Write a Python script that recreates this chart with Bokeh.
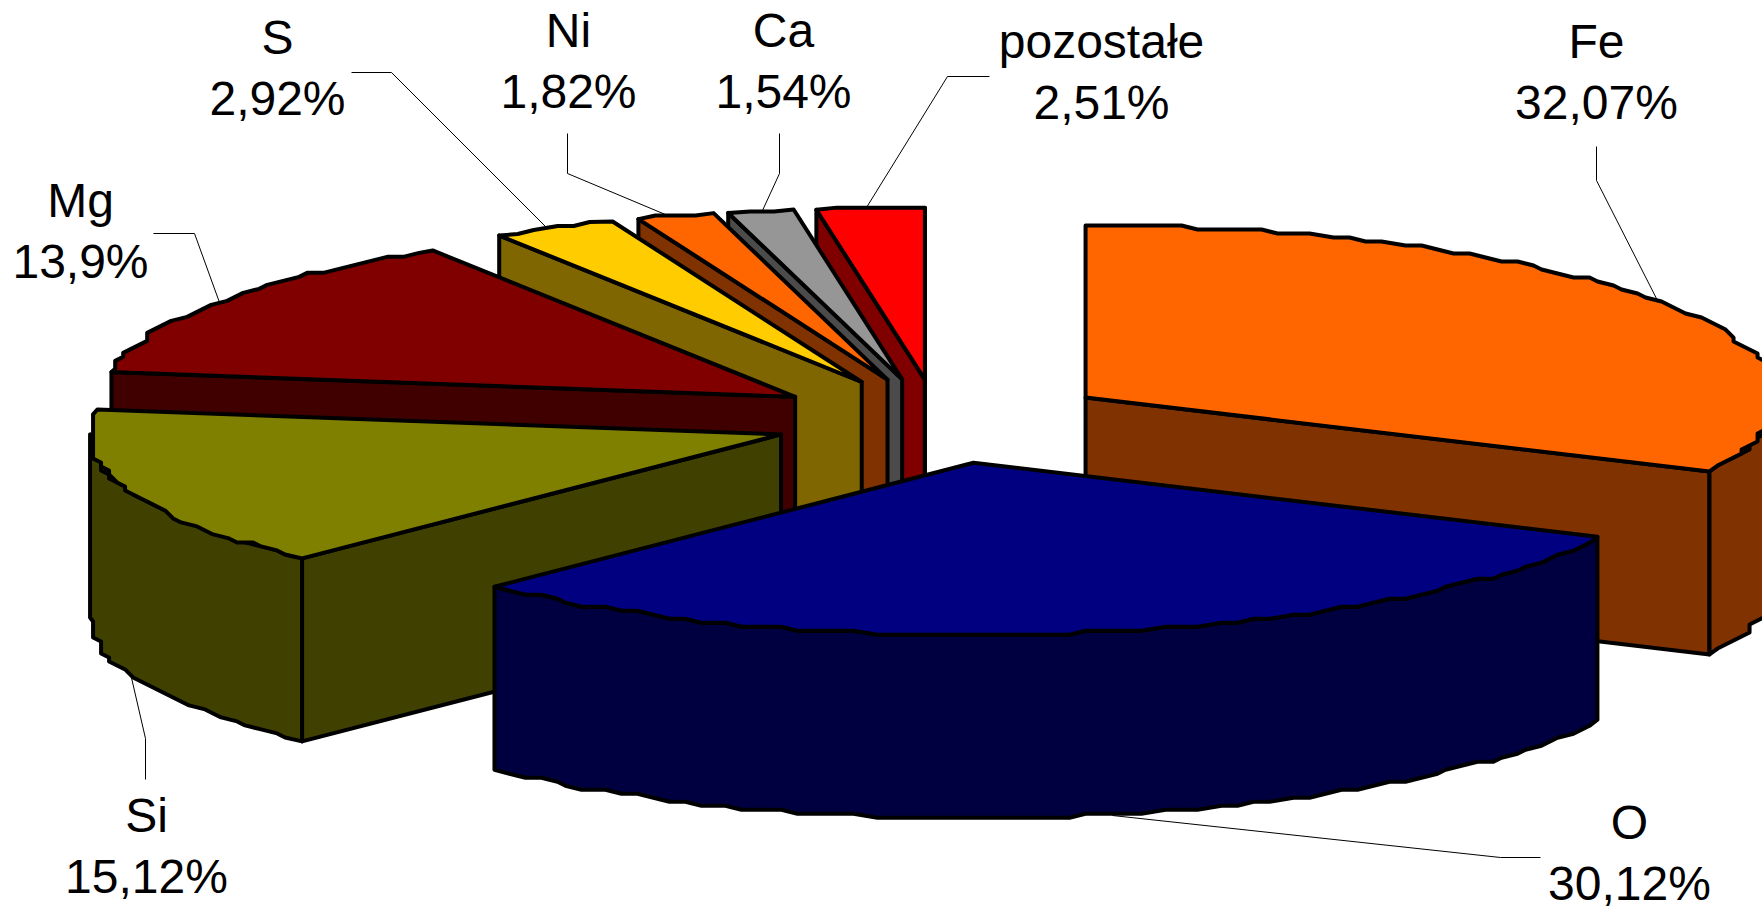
import math
from bokeh.plotting import figure
from bokeh.models import Range1d, ColumnDataSource
from bokeh.core.properties import value
from bokeh.embed import file_html
from bokeh.resources import INLINE

# ---- data -------------------------------------------------------------
names = ["Fe", "O", "Si", "Mg", "S", "Ni", "Ca", "pozostałe"]
shares = [32.07, 30.12, 15.12, 13.9, 2.92, 1.82, 1.54, 2.51]
share_labels = ["32,07%", "30,12%", "15,12%", "13,9%", "2,92%", "1,82%", "1,54%", "2,51%"]
top_colors = ["#FF6600", "#000080", "#808000", "#800000", "#FFCC00", "#FF6600", "#969696", "#FF0000"]
wall_colors = ["#803300", "#000040", "#404000", "#400000", "#806600", "#803300", "#4B4B4B", "#800000"]

# ---- layout (screen pixels) ---------------------------------------------
W, H, M = 1762, 909, 0
CX, CY, RX, RY, DEPTH, EXPLODE = 942, 420, 691, 172, 183, 0.25
SNAP_X, SNAP_Y, STEP = 8.0, 4.0, 1.6
NUDGE_X = [-3, 0, 2, -3, -4, -2, -5, -4]
NUDGE_Y = [0, 0, 0, 0, 0, 0, 1, 2]
LABEL_X = [1596, 1629, 146, 80, 277, 568, 783, 1101]
LABEL_Y = [41, 822, 815, 200, 37, 30, 30, 41]
LINE_GAP = 61
LEADERS = [
    [(1596, 146), (1596, 180), (1658, 302)],
    [(1112, 815), (1500, 857), (1540, 857)],
    [(130, 673), (145, 738), (145, 779)],
    [(153, 233), (194, 233), (219, 302)],
    [(351, 72), (391, 72), (547, 228)],
    [(567, 133), (567, 173), (672, 217)],
    [(779, 133), (779, 173), (762, 210)],
    [(989, 76), (947, 76), (866, 207)],
]

total = sum(shares)
angles = [0.0]
for s in shares:
    angles.append(angles[-1] + 360.0 * s / total)


def edge(theta):
    t = math.radians(theta)
    return RX * math.sin(t), -RY * math.cos(t)


def arc(a0, a1):
    """Rim polyline relative to the apex, with the coarse snapping of the source."""
    n = max(1, int((a1 - a0) / STEP))
    pts = []
    for i in range(n + 1):
        dx, dy = edge(a0 + (a1 - a0) * i / n)
        if 0 < i < n:
            dx = round(dx / SNAP_X) * SNAP_X
            dy = round(dy / SNAP_Y) * SNAP_Y
        pts.append((dx, dy))
    return pts


xs, ys, fills = [], [], []


def add(poly, ax, ay, color):
    xs.append([ax + px for px, _ in poly])
    ys.append([ay + py for _, py in poly])
    fills.append(color)


# Painter's order: the far slices first, the big front ones last
for i in [7, 6, 5, 4, 3, 2, 0, 1]:
    a0, a1 = angles[i], angles[i + 1]
    mid = math.radians((a0 + a1) / 2)
    ax = CX + EXPLODE * RX * math.sin(mid) + NUDGE_X[i]
    ay = CY - EXPLODE * RY * math.cos(mid) + NUDGE_Y[i]
    # cut face turned to the viewer
    for face, visible in ((a0, math.sin(math.radians(a0)) < 0), (a1, math.sin(math.radians(a1)) > 0)):
        if visible:
            ex, ey = edge(face)
            add([(0, 0), (ex, ey), (ex, ey + DEPTH), (0, DEPTH)], ax, ay, wall_colors[i])
    # outer rim
    r0, r1 = max(a0, 90.0), min(a1, 270.0)
    if r1 > r0:
        rim = arc(r0, r1)
        add(rim + [(px, py + DEPTH) for px, py in reversed(rim)], ax, ay, wall_colors[i])
    # top
    add([(0, 0)] + arc(a0, a1), ax, ay, top_colors[i])

p = figure(width=W, height=H, output_backend="svg", toolbar_location=None,
           x_range=Range1d(M, M + W), y_range=Range1d(M + H, M),
           min_border=0, outline_line_color=None, background_fill_color="white",
           border_fill_color="white")
p.xaxis.visible = False
p.yaxis.visible = False
p.grid.visible = False

p.multi_line([[q[0] for q in l] for l in LEADERS], [[q[1] for q in l] for l in LEADERS],
             line_color="black", line_width=1)
p.patches("xs", "ys", source=ColumnDataSource(dict(xs=xs, ys=ys, fill=fills)),
          fill_color="fill", line_color="black", line_width=4, line_join="round")

labels = ColumnDataSource(dict(
    x=LABEL_X, y=LABEL_Y, y2=[v + LINE_GAP for v in LABEL_Y], name=names, share=share_labels))
for col_y, col_t in (("y", "name"), ("y2", "share")):
    p.text(x="x", y=col_y, text=col_t, source=labels, text_align="center", text_baseline="middle",
           text_font=value("Liberation Sans"), text_font_size="48px", text_color="black")

open("out.html", "w").write(file_html(p, INLINE))
